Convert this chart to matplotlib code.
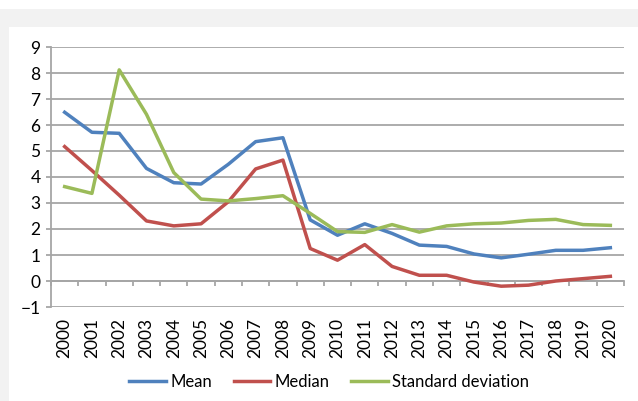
import numpy as np
import matplotlib

matplotlib.use("Agg")
import matplotlib.pyplot as plt
from matplotlib.patches import Rectangle

# Excel 2007-style palette
BLUE = "#4F81BD"
RED = "#C0504D"
GREEN = "#9BBB59"
GRID = "#A6A6A6"
PANEL = "#F2F2F2"

plt.rcParams.update({"font.family": ["Lato", "DejaVu Sans"], "font.size": 12.5})

years = [str(y) for y in range(2000, 2021)]
mean = [6.49, 5.72, 5.68, 4.33, 3.78, 3.73, 4.49, 5.36, 5.51, 2.35, 1.76,
        2.20, 1.83, 1.38, 1.33, 1.04, 0.89, 1.03, 1.18, 1.18, 1.28]
median = [5.17, 4.25, 3.30, 2.31, 2.12, 2.20, 3.05, 4.31, 4.65, 1.25, 0.80,
          1.40, 0.56, 0.22, 0.22, -0.04, -0.20, -0.16, 0.00, 0.09, 0.18]
std_dev = [3.63, 3.37, 8.12, 6.41, 4.17, 3.15, 3.08, 3.17, 3.28, 2.60, 1.90,
           1.87, 2.17, 1.88, 2.12, 2.20, 2.23, 2.33, 2.37, 2.17, 2.14]
y_ticks = list(range(-1, 10))

fig = plt.figure(figsize=(6.38, 4.01), dpi=100)
# grey frame strips (top band + left strip)
fig.patches.append(Rectangle((0, 1 - 27 / 401), 1, 18 / 401, transform=fig.transFigure,
                             facecolor=PANEL, edgecolor="none", zorder=0))
fig.patches.append(Rectangle((0, 0), 9 / 638, 1 - 9 / 401, transform=fig.transFigure,
                             facecolor=PANEL, edgecolor="none", zorder=0))

ax = fig.add_axes([51 / 638, 1 - 307 / 401, 573 / 638, 260 / 401])
ax.set_facecolor("none")
x = np.arange(len(years))
ax.plot(x, mean, color=BLUE, lw=2.5, label="Mean", zorder=3)
ax.plot(x, median, color=RED, lw=2.5, label="Median", zorder=3)
ax.plot(x, std_dev, color=GREEN, lw=2.5, label="Standard deviation", zorder=3)

ax.set_xlim(-0.5, len(years) - 0.5)
ax.set_ylim(-1, 9)
ax.set_yticks(y_ticks)
ax.yaxis.grid(True, color=GRID, lw=1.3)
ax.set_axisbelow(True)
for s in ["top", "right", "bottom"]:
    ax.spines[s].set_visible(False)
ax.spines["left"].set_color(GRID)
ax.spines["left"].set_linewidth(1.3)
ax.tick_params(axis="y", length=3.6, width=1.3, color=GRID, pad=4)

ax.set_xticks(x)
ax.set_xticklabels(years, rotation=90)
ax.tick_params(axis="x", length=0, pad=8)

# category axis drawn at y = 0 with boundary ticks
sec = ax.secondary_xaxis(0.1)
sec.set_xticks(np.arange(-0.5, len(years)))
sec.tick_params(axis="x", length=3.6, width=1.3, color=GRID, labelbottom=False)
sec.spines["bottom"].set_color(GRID)
sec.spines["bottom"].set_linewidth(1.3)

fig.legend(loc="center", bbox_to_anchor=(0.516, 0.048), ncol=3, frameon=False,
           fontsize=12, handlelength=2.2, handletextpad=0.25, columnspacing=1.3)

fig.savefig("out.png", dpi=100)
